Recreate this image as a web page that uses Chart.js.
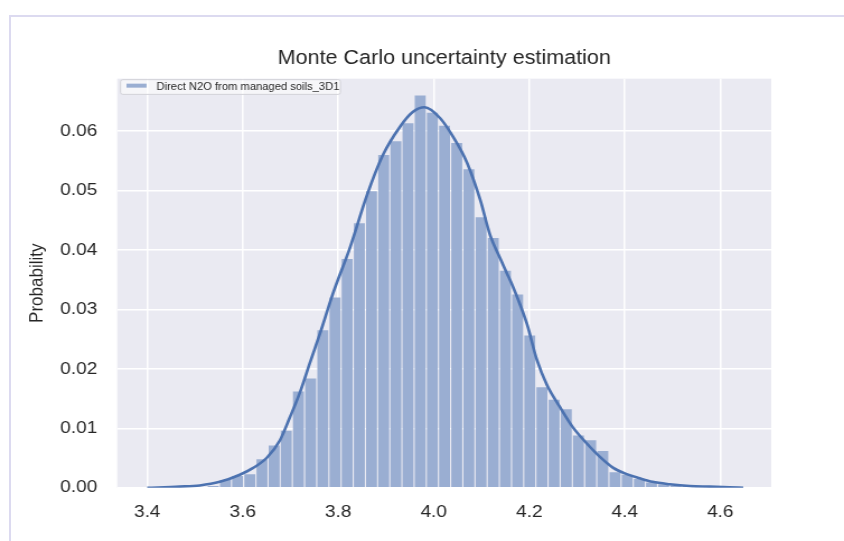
<!DOCTYPE html>
<html>
<head>
<meta charset="utf-8">
<script src="https://cdn.jsdelivr.net/npm/chart.js@4/dist/chart.umd.min.js"></script>
<style>
  html, body { margin:0; padding:0; background:#ffffff; width:844px; height:541px; overflow:hidden; }
  #frame { position:absolute; left:9px; top:15px; width:900px; height:600px; border-left:2px solid #dcdaf0; border-top:2px solid #dcdaf0; }
  #wrap { position:absolute; left:0; top:0; width:754px; height:541px; transform-origin:0 0; transform:scaleX(1.1194); }
  canvas { display:block; width:754px; height:541px; }
</style>
</head>
<body>
<div id="frame"></div>
<div id="wrap"><canvas id="c" width="754" height="541"></canvas></div>
<script>
// ---- data ----
const chartTitle = 'Monte Carlo uncertainty estimation';
const seriesName = 'Direct N2O from managed soils_3D1';
const yAxisTitle = 'Probability';

const binCenters = [3.5383,3.5638,3.5893,3.6148,3.6403,3.6658,3.6912,3.7167,3.7422,3.7677,
  3.7932,3.8187,3.8442,3.8697,3.8952,3.9207,3.9461,3.9716,3.9971,4.0226,
  4.0481,4.0736,4.0991,4.1246,4.1501,4.1756,4.2010,4.2265,4.2520,4.2775,
  4.3030,4.3285,4.3540,4.3795,4.4050,4.4305,4.4559,4.4814,4.5069,4.5324,4.5579];
const binHeights = [0.0003,0.0013,0.0020,0.0023,0.0048,0.0071,0.0096,0.0162,0.0184,0.0265,
  0.0320,0.0385,0.0445,0.0499,0.0560,0.0583,0.0613,0.0660,0.0631,0.0609,
  0.0580,0.0536,0.0455,0.0420,0.0365,0.0325,0.0256,0.0169,0.0148,0.0132,
  0.0088,0.0080,0.0062,0.0026,0.0022,0.0015,0.0009,0.0006,0.0004,0.0003,0.0001];

const kdeX = [3.400,3.468,3.510,3.552,3.594,3.621,3.651,3.678,3.699,3.720,3.741,3.762,3.789,3.825,3.860,
  3.893,3.929,3.956,3.981,4.013,4.040,4.069,4.097,4.118,4.139,4.153,4.166,4.195,4.216,4.237,
  4.264,4.291,4.320,4.348,4.375,4.404,4.431,4.458,4.494,4.536,4.577,4.619,4.648];
const kdeY = [0.0000,0.0002,0.0004,0.0010,0.0022,0.0033,0.0051,0.0080,0.0119,0.0161,0.0211,0.0260,0.0327,0.0405,0.0492,
  0.0559,0.0607,0.0632,0.0640,0.0622,0.0591,0.0548,0.0485,0.0425,0.0386,0.0361,0.0338,0.0276,0.0215,0.0173,
  0.0136,0.0102,0.0075,0.0052,0.0034,0.0023,0.0016,0.0010,0.0006,0.0003,0.0002,0.0001,0.0000];

const xTicks = [3.4,3.6,3.8,4.0,4.2,4.4,4.6];
const yTicks = [0.00,0.01,0.02,0.03,0.04,0.05,0.06];

// ---- styling ----
const FONT = "'Liberation Sans', Arial, sans-serif";
const TEXT = '#262626';
const LINE_BLUE = '#4c72b0';
const BAR_BLUE = '#9aaed2';

const bgPlugin = {
  id: 'plotBg',
  beforeDraw(chart) {
    const {ctx, chartArea: a} = chart;
    ctx.save();
    ctx.fillStyle = '#eaeaf2';
    ctx.fillRect(a.left, a.top, a.right - a.left, a.bottom - a.top);
    ctx.restore();
  }
};

const legendPlugin = {
  id: 'innerLegend',
  afterDatasetsDraw(chart) {
    const {ctx, chartArea: a} = chart;
    const x = a.left + 3, y = a.top + 1, w = 196.4, h = 14.7, r = 2;
    ctx.save();
    ctx.beginPath();
    ctx.moveTo(x + r, y);
    ctx.lineTo(x + w - r, y); ctx.quadraticCurveTo(x + w, y, x + w, y + r);
    ctx.lineTo(x + w, y + h - r); ctx.quadraticCurveTo(x + w, y + h, x + w - r, y + h);
    ctx.lineTo(x + r, y + h); ctx.quadraticCurveTo(x, y + h, x, y + h - r);
    ctx.lineTo(x, y + r); ctx.quadraticCurveTo(x, y, x + r, y);
    ctx.closePath();
    ctx.fillStyle = 'rgba(255,255,255,0.55)';
    ctx.fill();
    ctx.strokeStyle = '#d2d2d8';
    ctx.lineWidth = 1;
    ctx.stroke();
    ctx.fillStyle = BAR_BLUE;
    ctx.fillRect(x + 5.3, y + 4, 17.9, 4);
    ctx.fillStyle = TEXT;
    ctx.font = "10px " + FONT;
    ctx.textBaseline = 'alphabetic';
    ctx.textAlign = 'left';
    ctx.fillText(seriesName, x + 32.1, y + 10.7);
    ctx.restore();
  }
};

new Chart(document.getElementById('c'), {
  type: 'bar',
  data: {
    datasets: [
      {
        type: 'line',
        label: 'kde',
        data: kdeX.map((x, i) => ({x: x, y: kdeY[i]})),
        borderColor: LINE_BLUE,
        borderWidth: 2.6,
        pointRadius: 0,
        fill: false,
        cubicInterpolationMode: 'monotone',
        order: 0
      },
      {
        type: 'bar',
        label: seriesName,
        data: binCenters.map((x, i) => ({x: x, y: binHeights[i]})),
        backgroundColor: BAR_BLUE,
        borderWidth: 0,
        barPercentage: 0.9,
        categoryPercentage: 1.0,
        order: 1
      }
    ]
  },
  options: {
    responsive: false,
    animation: false,
    devicePixelRatio: 1,
    layout: { padding: { left: 0, right: 65, top: 0, bottom: 0 } },
    scales: {
      x: {
        type: 'linear',
        offset: false,
        min: 3.3372,
        max: 4.7067,
        afterBuildTicks: (axis) => { axis.ticks = xTicks.map(v => ({value: v})); },
        afterFit: (axis) => { axis.height = 53.2; },
        ticks: {
          callback: (v) => Number(v).toFixed(1),
          font: { family: FONT, size: 17 },
          color: TEXT,
          padding: 14,
          maxRotation: 0,
          autoSkip: false
        },
        grid: { color: '#ffffff', lineWidth: 1.5, drawTicks: false, offset: false },
        border: { display: false }
      },
      y: {
        type: 'linear',
        min: 0,
        max: 0.06882,
        afterBuildTicks: (axis) => { axis.ticks = yTicks.map(v => ({value: v})); },
        afterFit: (axis) => { axis.width = 104.7; },
        ticks: {
          callback: (v) => Number(v).toFixed(2),
          font: { family: FONT, size: 17 },
          color: TEXT,
          padding: 17.8,
          autoSkip: false
        },
        grid: { color: '#ffffff', lineWidth: 1.5, drawTicks: false },
        border: { display: false },
        title: {
          display: true,
          text: yAxisTitle,
          font: { family: FONT, size: 17 },
          color: TEXT,
          padding: { top: 23.5, bottom: 0 }
        }
      }
    },
    plugins: {
      legend: { display: false },
      tooltip: { enabled: false },
      title: {
        display: true,
        text: chartTitle,
        fullSize: false,
        font: { family: FONT, size: 19.3, weight: 'normal' },
        color: TEXT,
        padding: { top: 47.4, bottom: 8.1 }
      }
    }
  },
  plugins: [bgPlugin, legendPlugin]
});
</script>
</body>
</html>
